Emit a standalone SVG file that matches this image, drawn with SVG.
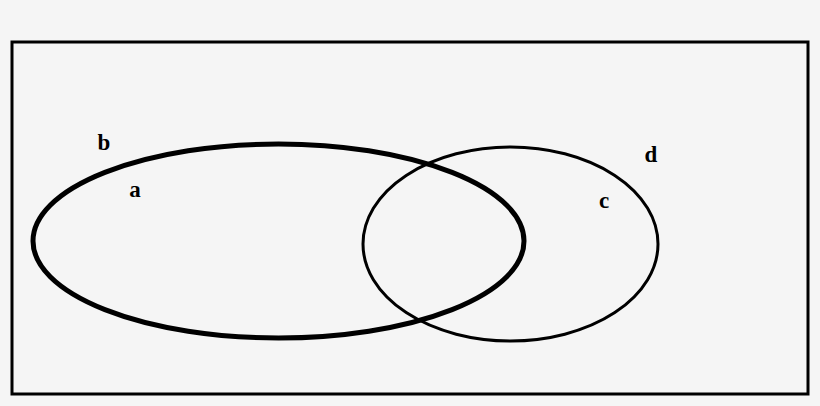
<svg xmlns="http://www.w3.org/2000/svg" width="820" height="406" viewBox="0 0 820 406">
<style>
.lbl{font-family:"Liberation Serif","DejaVu Serif",serif;font-weight:bold;font-size:23px;fill:#000}
.shape{fill:none;stroke:#000}
</style>
<rect x="0" y="0" width="820" height="406" fill="#f5f5f5"/>
<g id="universe"><rect class="shape" x="12" y="42" width="796" height="352" stroke-width="3"/><text class="lbl" x="651" y="162" text-anchor="middle">d</text></g>
<g id="setA"><ellipse class="shape" cx="278.5" cy="241" rx="245.5" ry="97" stroke-width="5"/><text class="lbl" x="135" y="197" text-anchor="middle">a</text><text class="lbl" x="104" y="150" text-anchor="middle">b</text></g>
<g id="setC"><ellipse class="shape" cx="510.5" cy="244" rx="147.5" ry="97" stroke-width="3"/><text class="lbl" x="604" y="208" text-anchor="middle">c</text></g>
</svg>
